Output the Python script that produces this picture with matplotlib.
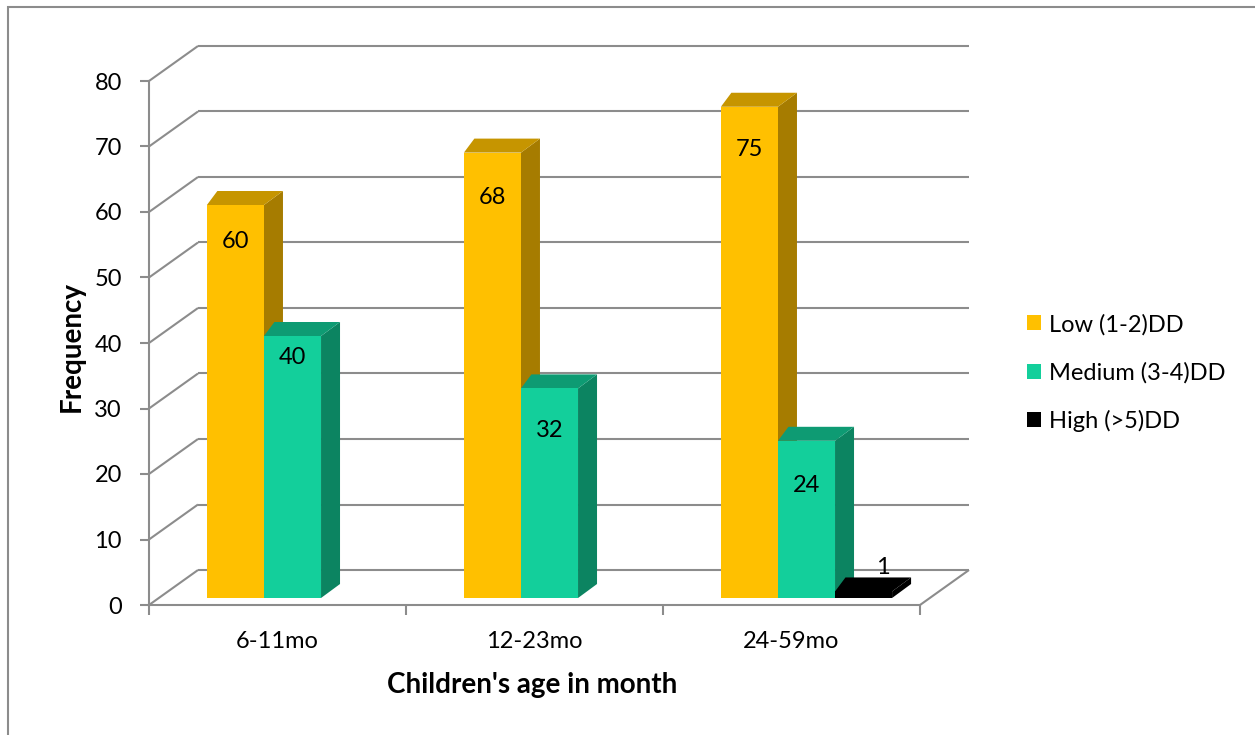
import matplotlib
matplotlib.use("Agg")
import matplotlib.pyplot as plt
from matplotlib.patches import Polygon, Patch, Rectangle
import numpy as np

# ---- data ----
categories = ["6-11mo", "12-23mo", "24-59mo"]
series_names = ["Low (1-2)DD", "Medium (3-4)DD", "High (>5)DD"]
low = [60, 68, 75]
medium = [40, 32, 24]
high = [None, None, 1]
y_ticks = [0, 10, 20, 30, 40, 50, 60, 70, 80]

# ---- styling ----
front_colors = ["#FFC000", "#13CF9B", "#000000"]
top_colors = ["#C69500", "#0E9B73", "#000000"]
side_colors = ["#A67C00", "#0C8461", "#000000"]
grid_color = "#8C8C8C"
FONT = "Lato"
FS = 17
FS_TITLE = 20

# label drop below the bar top (value units), per series / category
label_drop = [[5.6, 6.9, 6.6], [3.3, 6.5, 6.9], [0, 0, 0]]

W, H = 1255, 735
fig = plt.figure(figsize=(W / 100, H / 100), dpi=100)
fig.patch.set_facecolor("white")

# front plane of the plot box (pixels): x 149..920, y 605 (0) .. 81 (80)
ax = fig.add_axes([149 / W, (H - 605) / H, (920 - 149) / W, (605 - 81) / H])
ax.set_xlim(0, 3)
ax.set_ylim(0, 80)
ax.set_facecolor("none")


def px(dx, dy):
    """Convert a pixel offset into data units."""
    x0, y0 = ax.transData.transform((0, 0))
    x1, y1 = ax.transData.inverted().transform((x0 + dx, y0 + dy))
    return x1, y1


back_dx, back_dy = px(49, 35)      # back wall depth
plane_dx, plane_dy = px(15, 7)     # plane of the bar front faces
bar_dx, bar_dy = px(19, 14)        # depth of each bar

# ---- walls and floor ----
lkw = dict(color=grid_color, lw=1.5, clip_on=False, zorder=1, solid_capstyle="butt")
for v in y_ticks:
    # back wall gridline
    ax.plot([back_dx, 3 + back_dx], [v + back_dy, v + back_dy], **lkw)
    # side wall diagonal
    ax.plot([0, back_dx], [v, v + back_dy], **lkw)
# floor right edge
ax.plot([3, 3 + back_dx], [0, back_dy], **lkw)

# ---- bars ----
series = [low, medium, high]
n = len(series)
bw = 0.222
xc = np.arange(len(categories)) + 0.5
for k, vals in enumerate(series):
    xs = xc + (k - (n - 1) / 2) * bw + plane_dx
    hv = np.array([np.nan if v is None else v for v in vals], dtype=float)
    mask = ~np.isnan(hv)
    bars = ax.bar(xs[mask], hv[mask], width=bw, bottom=plane_dy,
                  color=front_colors[k], edgecolor="none",
                  zorder=3 + k + 0.5, clip_on=False)
    for rect in bars:
        x0 = rect.get_x()
        x1 = x0 + rect.get_width()
        y0 = rect.get_y()
        y1 = y0 + rect.get_height()
        side = Polygon([(x1, y0), (x1 + bar_dx, y0 + bar_dy),
                        (x1 + bar_dx, y1 + bar_dy), (x1, y1)],
                       closed=True, facecolor=side_colors[k], edgecolor="none",
                       zorder=3 + k, clip_on=False)
        top = Polygon([(x0, y1), (x0 + bar_dx * 0.55, y1 + bar_dy),
                       (x1 + bar_dx, y1 + bar_dy), (x1, y1)],
                      closed=True, facecolor=top_colors[k], edgecolor="none",
                      zorder=3 + k + 0.2, clip_on=False)
        ax.add_patch(side)
        ax.add_patch(top)

    # value labels
    ci = np.where(mask)[0]
    for j, rect in zip(ci, bars):
        v = hv[j]
        cx = rect.get_x() + rect.get_width() / 2
        if v < 5:
            tx, ty = cx + bar_dx, v + plane_dy + bar_dy + px(0, 10)[1]
        else:
            tx, ty = cx, v + plane_dy - label_drop[k][j]
        ax.text(tx, ty, f"{int(v)}", ha="center", va="center",
                fontsize=FS, family=FONT, color="black", zorder=10, clip_on=False)

# ---- axes ----
for s in ["top", "right"]:
    ax.spines[s].set_visible(False)
for s in ["left", "bottom"]:
    ax.spines[s].set_color(grid_color)
    ax.spines[s].set_linewidth(1.5)
    ax.spines[s].set_zorder(2)

ax.set_yticks(y_ticks)
ax.set_yticklabels([str(t) for t in y_ticks], family=FONT, fontsize=FS)
ax.tick_params(axis="y", length=6.5, width=1.5, color=grid_color, pad=13)

ax.set_xticks([0, 1, 2, 3])
ax.set_xticklabels([])
ax.tick_params(axis="x", which="major", length=7.2, width=1.5, color=grid_color,
               direction="out")
ax.set_xticks(xc, minor=True)
ax.set_xticklabels(categories, minor=True, family=FONT, fontsize=FS)
ax.tick_params(axis="x", which="minor", length=0, pad=19)

ax.set_xlabel("Children's age in month", family=FONT, fontsize=FS_TITLE,
              fontweight="bold")
ax.xaxis.set_label_coords(0.497, -0.153)
ax.xaxis.label.set_va("center")
ax.set_ylabel("Frequency", family=FONT, fontsize=FS_TITLE, fontweight="bold")
ax.yaxis.set_label_coords(-0.0999, 0.494)
ax.yaxis.label.set_va("center")

# ---- legend ----
handles = [Patch(facecolor=c, edgecolor="none") for c in front_colors]
fig.legend(handles, series_names, loc="center left",
           bbox_to_anchor=(1027 / W, (H - 373) / H), frameon=False,
           prop=dict(family=FONT, size=FS), handlelength=0.6, handleheight=0.6,
           handletextpad=0.34, labelspacing=1.13, borderpad=0, borderaxespad=0)

# ---- outer chart border ----
fig.patches.append(Rectangle((8 / W, -0.05), 1.1, (H - 7) / H + 0.05,
                             transform=fig.transFigure, fill=False,
                             edgecolor="#8C8C8C", lw=1.5))

fig.savefig("out.png", dpi=100)
